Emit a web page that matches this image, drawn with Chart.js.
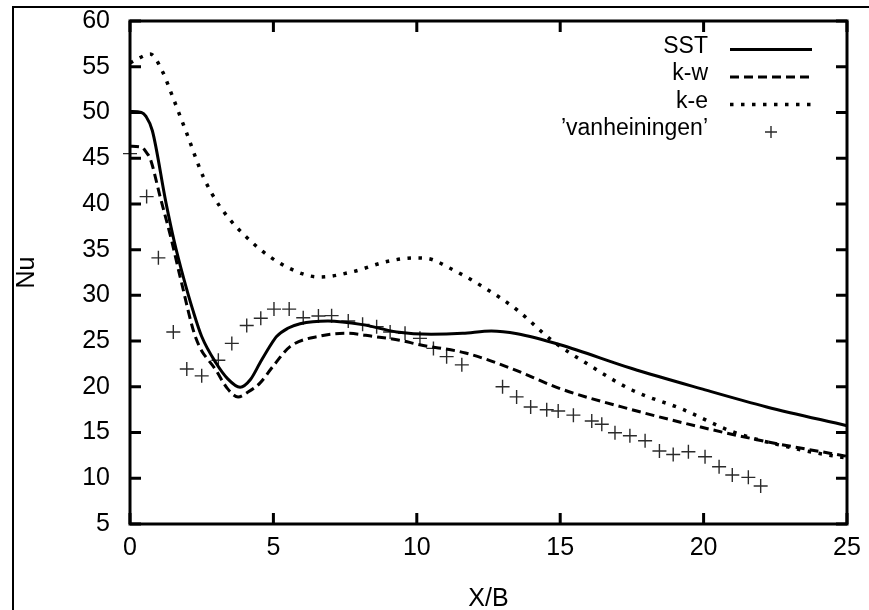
<!DOCTYPE html>
<html>
<head>
<meta charset="utf-8">
<script src="https://cdn.jsdelivr.net/npm/chart.js@4.4.1/dist/chart.umd.min.js"></script>
<style>
  html, body { margin: 0; padding: 0; background: #fff; }
  canvas { display: block; }
</style>
</head>
<body>
<canvas id="nuChart" width="869" height="610"></canvas>
<script>
// Values (X/B vs Nu)
const sstX = [0, 0.4, 0.55, 0.78, 1.25, 1.55, 1.86, 2.2, 2.5, 3.0, 3.4, 3.84, 4.2, 4.53, 4.85, 5.11, 5.5, 5.93, 6.9, 8.1, 9.3, 10.5, 11.6, 12.6, 13.5, 15.0, 17.5, 19.9, 22.2, 25];
const sstY = [50.1, 50.0, 49.6, 48.0, 40.2, 35.8, 32.0, 28.3, 25.5, 22.6, 20.9, 19.95, 20.8, 22.6, 24.3, 25.5, 26.4, 26.9, 27.2, 26.8, 26.0, 25.75, 25.85, 26.1, 25.8, 24.6, 22.0, 19.8, 17.8, 15.75];

const kwX = [0, 0.4, 0.6, 0.7, 1.05, 1.45, 1.75, 2.3, 3.0, 3.4, 3.77, 4.1, 4.53, 5.0, 5.58, 6.62, 7.57, 8.5, 9.4, 10.1, 11.7, 13.3, 15.0, 17.5, 19.9, 22.2, 25];
const kwY = [46.3, 46.2, 45.5, 45.0, 40.8, 36.0, 32.0, 25.3, 21.8, 19.8, 18.9, 19.4, 20.4, 22.3, 24.4, 25.55, 25.85, 25.5, 25.1, 24.6, 23.7, 22.0, 19.8, 17.5, 15.6, 14.0, 12.4];

const keX = [0, 0.35, 0.7, 1.16, 1.39, 1.98, 2.55, 3.14, 4.29, 5.47, 6.62, 7.78, 8.96, 9.9, 10.35, 11.16, 12.3, 13.5, 14.7, 15.9, 17.5, 19.3, 21.0, 23.4, 25];
const keY = [55.4, 56.0, 56.4, 54.3, 52.5, 47.7, 43.0, 39.7, 35.7, 33.1, 32.0, 32.6, 33.7, 34.1, 34.05, 32.96, 30.95, 28.4, 25.1, 22.6, 19.65, 17.5, 15.1, 13.1, 12.2];

const expX = [0.0, 0.58, 0.99, 1.51, 1.98, 2.5, 3.08, 3.55, 4.07, 4.56, 5.02, 5.55, 6.04, 6.57, 7.03, 7.61, 8.11, 8.6, 9.07, 9.59, 10.11, 10.58, 11.04, 11.57, 12.99, 13.48, 13.97, 14.53, 14.93, 15.46, 16.1, 16.45, 16.91, 17.43, 17.96, 18.46, 18.94, 19.47, 20.05, 20.54, 21.0, 21.56, 21.99];
const expY = [45.5, 40.8, 34.1, 26.0, 21.95, 21.2, 22.9, 24.75, 26.7, 27.5, 28.5, 28.5, 27.56, 27.74, 27.78, 27.2, 26.83, 26.57, 26.0, 25.85, 25.3, 24.2, 23.3, 22.4, 20.0, 18.9, 17.8, 17.5, 17.35, 16.9, 16.26, 15.9, 14.98, 14.65, 14.1, 12.98, 12.6, 12.9, 12.36, 11.26, 10.35, 10.1, 9.15];

const seriesLabels = ['SST', 'k-w', 'k-e', '\u2019vanheiningen\u2019'];
const xTickValues = [0, 5, 10, 15, 20, 25];
const yTickValues = [5, 10, 15, 20, 25, 30, 35, 40, 45, 50, 55, 60];

const FONT = "'Liberation Sans', Arial, sans-serif";

function toPoints(xs, ys) {
    return xs.map((x, i) => ({ x: x, y: ys[i] }));
}

// White page, outer frame lines, plot box and inward ticks on all four sides
const framePlugin = {
    id: 'frame',
    beforeDraw(chart) {
        const ctx = chart.ctx;
        ctx.save();
        ctx.fillStyle = '#fff';
        ctx.fillRect(0, 0, chart.width, chart.height);
        ctx.strokeStyle = '#000';
        ctx.lineWidth = 2;
        ctx.beginPath();
        ctx.moveTo(13, chart.height);
        ctx.lineTo(13, 7);
        ctx.lineTo(chart.width, 7);
        ctx.stroke();
        ctx.restore();
    },
    afterDatasetsDraw(chart) {
        const ctx = chart.ctx;
        const a = chart.chartArea;
        const xs = chart.scales.x;
        const ys = chart.scales.y;
        const len = 11;
        ctx.save();
        ctx.strokeStyle = '#000';
        ctx.lineWidth = 3;
        ctx.beginPath();
        xs.ticks.forEach(t => {
            const px = xs.getPixelForValue(t.value);
            ctx.moveTo(px, a.bottom); ctx.lineTo(px, a.bottom - len);
            ctx.moveTo(px, a.top); ctx.lineTo(px, a.top + len);
        });
        ys.ticks.forEach(t => {
            const py = ys.getPixelForValue(t.value);
            ctx.moveTo(a.left, py); ctx.lineTo(a.left + len, py);
            ctx.moveTo(a.right, py); ctx.lineTo(a.right - len, py);
        });
        ctx.stroke();
        ctx.strokeRect(a.left, a.top, a.right - a.left, a.bottom - a.top);
        ctx.restore();
    }
};

// gnuplot style key: text right aligned, sample to its right
const keyPlugin = {
    id: 'key',
    afterDraw(chart) {
        const ctx = chart.ctx;
        const textRight = 708;
        const sampleLeft = 730;
        const sampleRight = 812;
        const rowTop = 49.5;
        const rowStep = 27.5;
        ctx.save();
        ctx.font = '23px ' + FONT;
        ctx.textAlign = 'right';
        ctx.textBaseline = 'middle';
        chart.data.datasets.forEach((ds, i) => {
            const y = rowTop + i * rowStep;
            ctx.fillStyle = '#000';
            ctx.fillText(ds.label, textRight, y - 3);
            ctx.strokeStyle = ds.borderColor;
            if (ds.showLine === false) {
                const cx = (sampleLeft + sampleRight) / 2;
                const r = 6;
                ctx.lineWidth = ds.borderWidth;
                ctx.setLineDash([]);
                ctx.beginPath();
                ctx.moveTo(cx - r, y); ctx.lineTo(cx + r, y);
                ctx.moveTo(cx, y - r); ctx.lineTo(cx, y + r);
                ctx.stroke();
            } else {
                ctx.lineWidth = ds.borderWidth;
                ctx.setLineDash(ds.borderDash || []);
                ctx.beginPath();
                ctx.moveTo(sampleLeft, y);
                ctx.lineTo(sampleRight, y);
                ctx.stroke();
            }
        });
        ctx.restore();
    }
};

function renderNuChart() {
    const ctx = document.getElementById('nuChart').getContext('2d');

    const lineBase = {
        borderColor: '#000',
        backgroundColor: '#000',
        pointRadius: 0,
        fill: false,
        cubicInterpolationMode: 'monotone',
        clip: false
    };

    const config = {
        type: 'line',
        data: {
            datasets: [
                Object.assign({}, lineBase, {
                    label: seriesLabels[0],
                    data: toPoints(sstX, sstY),
                    borderWidth: 3
                }),
                Object.assign({}, lineBase, {
                    label: seriesLabels[1],
                    data: toPoints(kwX, kwY),
                    borderWidth: 3,
                    borderDash: [9, 5]
                }),
                Object.assign({}, lineBase, {
                    label: seriesLabels[2],
                    data: toPoints(keX, keY),
                    borderWidth: 3.5,
                    borderDash: [3.5, 7.5]
                }),
                {
                    label: seriesLabels[3],
                    data: toPoints(expX, expY),
                    showLine: false,
                    pointStyle: 'cross',
                    pointRadius: 7,
                    borderWidth: 1.4,
                    borderColor: '#2a2a2a',
                    backgroundColor: '#2a2a2a',
                    clip: false
                }
            ]
        },
        options: {
            responsive: false,
            animation: false,
            events: [],
            layout: {
                autoPadding: false,
                padding: { top: 21, right: 22, left: 0, bottom: 0 }
            },
            plugins: {
                legend: { display: false },
                tooltip: { enabled: false }
            },
            scales: {
                x: {
                    type: 'linear',
                    min: 0,
                    max: 25,
                    afterBuildTicks: scale => { scale.ticks = xTickValues.map(v => ({ value: v })); },
                    afterFit: scale => {
                        scale.height = 86;
                        scale.paddingLeft = 0;
                        scale.paddingRight = 0;
                    },
                    grid: { display: false, drawTicks: false },
                    border: { display: false },
                    ticks: {
                        color: '#000',
                        padding: 9,
                        maxRotation: 0,
                        font: { family: FONT, size: 25 }
                    },
                    title: {
                        display: true,
                        text: 'X/B',
                        color: '#000',
                        padding: { top: 0, bottom: -4 },
                        font: { family: FONT, size: 25 }
                    }
                },
                y: {
                    type: 'linear',
                    min: 5,
                    max: 60,
                    afterBuildTicks: scale => { scale.ticks = yTickValues.map(v => ({ value: v })); },
                    afterFit: scale => {
                        scale.width = 130;
                        scale.paddingTop = 0;
                        scale.paddingBottom = 0;
                    },
                    grid: { display: false, drawTicks: false },
                    border: { display: false },
                    ticks: {
                        color: '#000',
                        padding: 20,
                        font: { family: FONT, size: 25 }
                    },
                    title: {
                        display: true,
                        text: 'Nu',
                        color: '#000',
                        padding: { top: 12, bottom: 0 },
                        font: { family: FONT, size: 25 }
                    }
                }
            }
        },
        plugins: [framePlugin, keyPlugin]
    };

    new Chart(ctx, config);
}

document.addEventListener('DOMContentLoaded', renderNuChart);
</script>
</body>
</html>
